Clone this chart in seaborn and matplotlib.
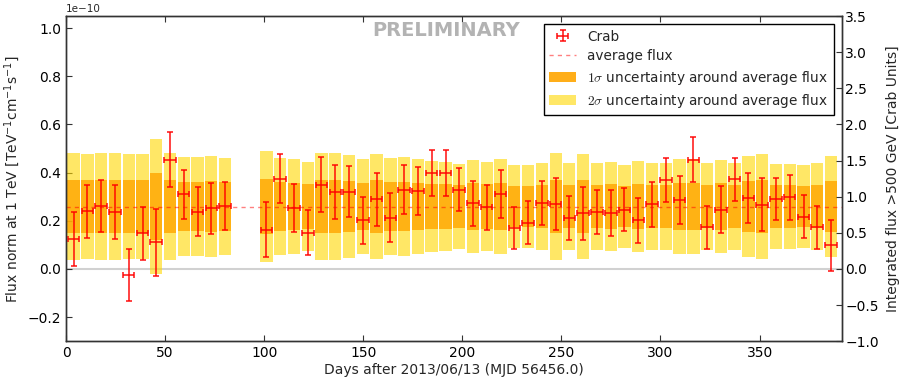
import numpy as np
import pandas as pd
import matplotlib
matplotlib.use("Agg")
import matplotlib.pyplot as plt
from matplotlib.patches import Patch
from matplotlib.lines import Line2D
from matplotlib.ticker import MultipleLocator, FuncFormatter
from matplotlib.container import ErrorbarContainer
from matplotlib.legend_handler import HandlerErrorbar
import seaborn as sns

# ---- data (flux in units of 1e-10 TeV^-1 cm^-2 s^-1) ----
days = [3.8, 10.8, 17.7, 24.7, 31.6, 38.6, 45.5, 52.5, 59.4, 66.4, 73.3, 80.3,
        101.1, 108.1, 115.0, 122.0, 128.9, 135.9, 142.8, 149.8, 156.7, 163.7,
        170.6, 177.6, 184.5, 191.5, 198.4, 205.4, 212.3, 219.3, 226.2, 233.2,
        240.1, 247.1, 254.0, 261.0, 267.9, 274.9, 281.8, 288.8, 295.7, 302.7,
        309.6, 316.6, 323.5, 330.5, 337.4, 344.4, 351.3, 358.3, 365.2, 372.2,
        379.1, 386.1]
flux = [0.124, 0.239, 0.261, 0.237, -0.026, 0.147, 0.111, 0.454, 0.310, 0.237, 0.252, 0.261,
        0.162, 0.375, 0.252, 0.151, 0.350, 0.320, 0.320, 0.201, 0.289, 0.213,
        0.328, 0.322, 0.398, 0.398, 0.328, 0.273, 0.255, 0.311, 0.170, 0.192,
        0.273, 0.271, 0.213, 0.231, 0.237, 0.232, 0.246, 0.201, 0.268, 0.369,
        0.286, 0.454, 0.172, 0.246, 0.372, 0.295, 0.266, 0.290, 0.297, 0.217,
        0.172, 0.098]
flux_err = [0.112, 0.110, 0.109, 0.111, 0.109, 0.109, 0.139, 0.113, 0.102, 0.101, 0.106, 0.101,
            0.114, 0.102, 0.099, 0.092, 0.113, 0.112, 0.106, 0.098, 0.109, 0.101,
            0.102, 0.100, 0.095, 0.095, 0.089, 0.093, 0.092, 0.098, 0.088, 0.088,
            0.091, 0.108, 0.091, 0.110, 0.091, 0.094, 0.089, 0.095, 0.092, 0.093,
            0.098, 0.094, 0.090, 0.097, 0.090, 0.105, 0.110, 0.088, 0.093, 0.088,
            0.089, 0.106]
band_sigma = [0.111, 0.109, 0.111, 0.111, 0.109, 0.109, 0.140, 0.111, 0.102, 0.102, 0.105, 0.100,
              0.115, 0.100, 0.099, 0.093, 0.111, 0.111, 0.106, 0.098, 0.109, 0.101,
              0.103, 0.099, 0.095, 0.093, 0.089, 0.096, 0.093, 0.098, 0.086, 0.086,
              0.090, 0.111, 0.090, 0.109, 0.091, 0.093, 0.087, 0.095, 0.091, 0.091,
              0.098, 0.098, 0.090, 0.096, 0.090, 0.104, 0.110, 0.089, 0.089, 0.087,
              0.090, 0.104]
day_halfwidth = 2.9
average_flux = 0.259
UNIT = 1e-10
CRAB_UNIT = 0.3  # 1 Crab unit in 1e-10 flux units

x_ticks = [0, 50, 100, 150, 200, 250, 300, 350]

sns.set_style("ticks")
plt.rcParams.update({
    "font.family": ["DejaVu Sans"],
    "font.size": 10,
    "xtick.direction": "in",
    "ytick.direction": "in",
    "xtick.top": True,
    "xtick.major.size": 4,
    "ytick.major.size": 4,
    "xtick.labelsize": 10,
    "ytick.labelsize": 10,
    "axes.edgecolor": "0.2",
    "axes.linewidth": 1.0,
    "xtick.color": "0.2",
    "ytick.color": "0.2",
    "xtick.labelcolor": "black",
    "ytick.labelcolor": "black",
})

df = pd.DataFrame({"day": days, "flux": flux, "err": flux_err, "sigma": band_sigma})
df["two_lo"] = (average_flux - 2 * df["sigma"]) * UNIT
df["two_h"] = 4 * df["sigma"] * UNIT
df["one_lo"] = (average_flux - df["sigma"]) * UNIT
df["one_h"] = 2 * df["sigma"] * UNIT

fig = plt.figure(figsize=(9.01, 3.82), dpi=100)
ax = fig.add_axes([0.0733, 0.107, 0.861, 0.851])

yellow = "gold"
orange = "orange"

ax.axhline(0, color="0.82", lw=1.5, zorder=0)

sns.barplot(data=df, x="day", y="two_h", bottom=df["two_lo"].values, native_scale=True,
            width=0.9, color=yellow, saturation=1, alpha=0.6, errorbar=None,
            linewidth=0, edgecolor="none", ax=ax, zorder=1)
sns.barplot(data=df, x="day", y="one_h", bottom=df["one_lo"].values, native_scale=True,
            width=0.9, color=orange, saturation=1, alpha=0.8, errorbar=None,
            linewidth=0, edgecolor="none", ax=ax, zorder=2)

ax.axhline(average_flux * UNIT, color="red", alpha=0.5, lw=1, dashes=(3, 3), zorder=3)

eb = ax.errorbar(df["day"], df["flux"] * UNIT, yerr=df["err"] * UNIT, xerr=day_halfwidth,
                 fmt="none", ecolor="red", alpha=0.8, elinewidth=1.3, capsize=2.5,
                 capthick=1.3, zorder=4)

ax.set_xlim(0, 391.5)
ax.set_ylim(-0.3 * UNIT, 1.05 * UNIT)
ax.yaxis.set_major_locator(MultipleLocator(0.2 * UNIT))
ax.yaxis.set_major_formatter(FuncFormatter(lambda v, p: f"{v / UNIT:.1f}".replace("-", "\u2212")))
ax.set_xticks(x_ticks)
ax.set_xticklabels([str(t) for t in x_ticks])
ax.text(0.0, 1.006, "1e\u221210", transform=ax.transAxes, ha="left", va="bottom",
        fontsize=7.5)
ax.tick_params(axis="y", right=False)
ax.set_xlabel("Days after 2013/06/13 (MJD 56456.0)", fontsize=10, labelpad=2)
ax.set_ylabel(r"Flux norm at 1 TeV [TeV$^{-1}$cm$^{-1}$s$^{-1}$]", fontsize=10, labelpad=4)

ax.text(0.49, 0.957, "PRELIMINARY", transform=ax.transAxes, ha="center", va="center",
        fontsize=14, fontweight="bold", color="0.7", zorder=6)

ax2 = ax.twinx()
ax2.set_ylim(-0.3 / CRAB_UNIT, 1.05 / CRAB_UNIT)
ax2.yaxis.set_major_locator(MultipleLocator(0.5))
ax2.set_ylabel("Integrated flux >500 GeV [Crab Units]", fontsize=10, labelpad=5)
ax2.tick_params(axis="y", direction="in", pad=2.5)

handles = [
    eb,
    Line2D([], [], color="red", alpha=0.5, lw=1, dashes=(3, 3)),
    Patch(facecolor=orange, alpha=0.9, edgecolor="none"),
    Patch(facecolor=yellow, alpha=0.6, edgecolor="none"),
]
labels = ["Crab", "average flux",
          r"$1\sigma$ uncertainty around average flux",
          r"$2\sigma$ uncertainty around average flux"]
leg = ax2.legend(handles, labels, loc="upper right", frameon=True, fancybox=False,
                 framealpha=1, edgecolor="black", fontsize=9.8, borderaxespad=0.6,
                 labelspacing=0.4, handlelength=2.0,
                 handler_map={ErrorbarContainer: HandlerErrorbar(xerr_size=0.4)})
leg.get_frame().set_linewidth(1.0)
for t in leg.get_texts():
    t.set_math_fontfamily("cm")

fig.savefig("out.png", dpi=100)
